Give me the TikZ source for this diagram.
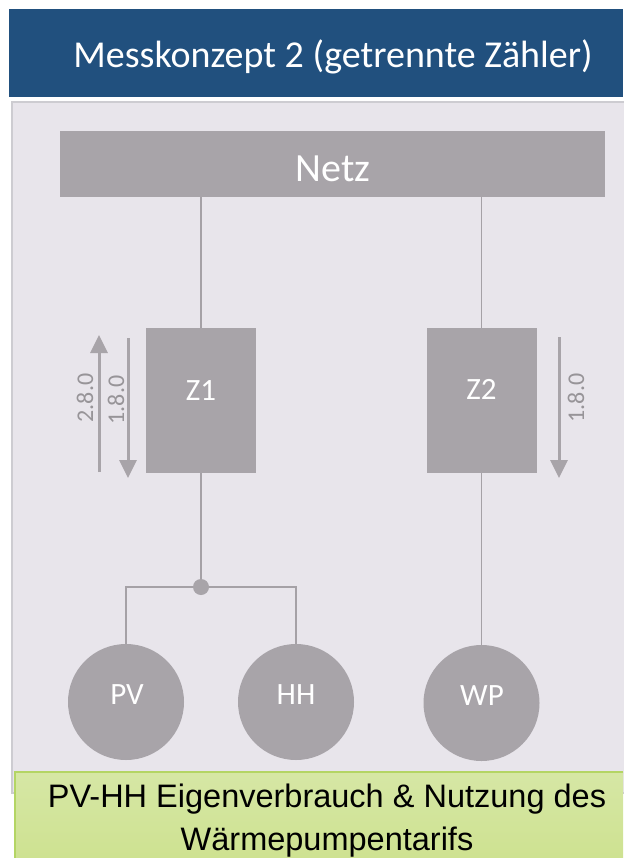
\documentclass[tikz,border=0pt]{standalone}
\usepackage{fontspec}
\setmainfont{Carlito}
\newfontfamily\arialfont{Liberation Sans}
\usetikzlibrary{arrows.meta}
\definecolor{hdrblue}{RGB}{33,80,126}
\definecolor{panelgray}{RGB}{232,229,235}
\definecolor{panelline}{RGB}{205,204,209}
\definecolor{boxgray}{RGB}{168,164,169}
\definecolor{linegray}{RGB}{165,161,166}
\definecolor{greentop}{RGB}{214,231,165}
\definecolor{greenbot}{RGB}{206,226,145}
\definecolor{greenline}{RGB}{180,213,100}
\tikzset{
  meterbox/.style={fill=boxgray, draw=none, minimum width=110pt, minimum height=145pt, inner sep=0pt},
  metertxt/.style={text=white, font=\fontsize{31}{33}\selectfont, anchor=base, inner sep=0pt},
  loadcirc/.style={circle, fill=boxgray, draw=none, minimum size=116pt, inner sep=0pt},
  loadtxt/.style={text=white, font=\fontsize{31}{33}\selectfont, inner sep=0pt, anchor=base},
  wire/.style={draw=linegray, line width=1.4pt},
  flowarrow/.style={draw=boxgray, line width=3pt, -{Triangle[width=17pt,length=18pt]}},
  flowlabel/.style={text=boxgray!90!black, font=\fontsize{24}{26}\selectfont, rotate=90, inner sep=0pt}
}
\begin{document}
\begin{tikzpicture}[x=1pt,y=-1pt]
\useasboundingbox (0,0) rectangle (623,858);
\fill[white] (0,0) rectangle (623,858);
% header
\fill[hdrblue] (9,9) rectangle (623,97);
\node[text=white, font=\fontsize{38}{40}\selectfont, anchor=base, inner sep=0pt] (title) at (333,68) {Messkonzept 2 (getrennte Zähler)};
% panel
\draw[fill=panelgray, draw=panelline, line width=1.5pt] (12,102) rectangle (630,793);
% Netz
\node[fill=boxgray, minimum width=545pt, minimum height=66pt, inner sep=0pt, anchor=north west] (netz) at (60,131) {};
\node[text=white, font=\fontsize{40}{42}\selectfont, anchor=base, inner sep=0pt] (netztxt) at (333,182) {Netz};
% meters
\node[meterbox] (z1) at (201,400.5) {};
\node[metertxt] (z1t) at (201,400) {Z1};
\node[meterbox] (z2) at (481.5,400.5) {};
\node[metertxt] (z2t) at (481.5,399) {Z2};
% wires from Netz
\draw[wire] (netz.south -| z1.north) -- (z1.north);
\draw[wire] (netz.south -| z2.north) -- (z2.north);
% loads
\node[loadcirc] (pv) at (126,702) {};
\node[loadtxt] at (127,704) {PV};
\node[loadcirc] (hh) at (296,702) {};
\node[loadtxt] at (296,704) {HH};
\node[loadcirc] (wp) at (481.5,703) {};
\node[loadtxt] at (482,705) {WP};
% junction
\coordinate (jn) at (201,587);
\draw[wire] (z1.south) -- (jn);
\draw[wire] (jn) -| (pv.north);
\draw[wire] (jn) -| (hh.north);
\fill[boxgray] (jn) circle (8pt);
\draw[wire] (z2.south) -- (wp.north);
% arrows
\coordinate (a1s) at (99,472); \coordinate (a1e) at (99,335);
\coordinate (a2s) at (128,338); \coordinate (a2e) at (128,478);
\coordinate (a3s) at (559,337); \coordinate (a3e) at (559,478);
\draw[flowarrow] (a1s) -- (a1e);
\draw[flowarrow] (a2s) -- (a2e);
\draw[flowarrow] (a3s) -- (a3e);
\node[flowlabel] (l1) at (85,398) {2.8.0};
\node[flowlabel] (l2) at (116,400) {1.8.0};
\node[flowlabel] (l3) at (576,398) {1.8.0};
% green caption box
\shade[top color=greentop, bottom color=greenbot] (15,772) rectangle (623,858);
\draw[greenline, line width=1.5pt] (15,858) -- (15,772) -- (623,772);
\node[align=center, font=\arialfont\fontsize{32.5}{43}\selectfont, inner sep=0pt, text=black] (cap) at (327,821) {PV-HH Eigenverbrauch \& Nutzung des\\Wärmepumpentarifs};
\end{tikzpicture}
\end{document}
